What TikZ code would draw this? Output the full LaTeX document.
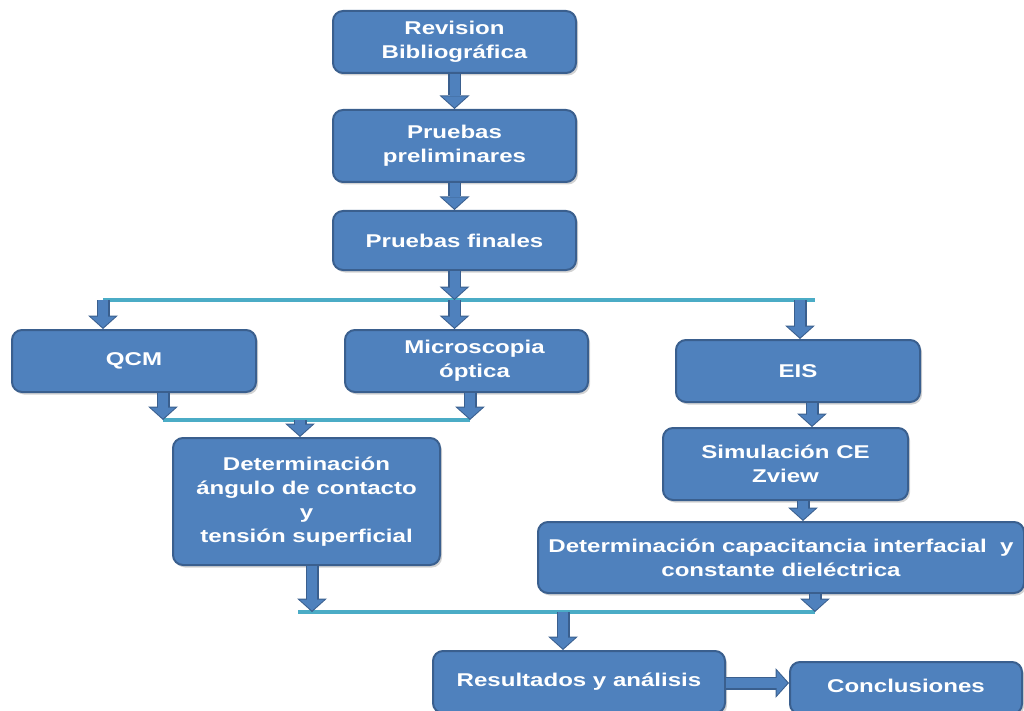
\documentclass[tikz,border=0pt]{standalone}
\usepackage{fontspec}
\setmainfont{Liberation Sans}[FakeStretch=1.3]
\usetikzlibrary{arrows.meta,shadows,calc}
\definecolor{boxblue}{HTML}{4F81BD}
\definecolor{boxedge}{HTML}{3A5F8E}
\definecolor{busc}{HTML}{4BACC6}
\definecolor{busshade}{HTML}{93AAB8}
\begin{document}
\begin{tikzpicture}[x=1pt,y=-1pt,
  box/.style={draw=boxedge, line width=2pt, fill=boxblue, rounded corners=10pt,
    text=white, font=\fontsize{18.5}{24}\selectfont\bfseries, align=center, inner sep=0pt,
    drop shadow={shadow xshift=2pt, shadow yshift=-2.5pt, opacity=0.35}},
  barrow/.style={line width=10pt, draw=boxblue,
    -{Triangle[width=25pt,length=11pt,line width=0pt]}, shorten >=1.5pt,
    preaction={draw=boxedge, line width=13pt, -{Triangle[width=30pt,length=13.5pt,line width=0pt]}, shorten >=0pt}},
  busline/.style={line width=4.5pt, draw=busc, line cap=butt},
  busshadow/.style={line width=3pt, draw=busshade, yshift=-2.5pt}
]
\useasboundingbox (0,0) rectangle (1024,711);

% boxes
\node[box, minimum width=243pt, minimum height=62pt] (rev) at (454.5,42) {Revision\\Bibliográfica};
\node[box, minimum width=243pt, minimum height=72pt] (pre) at (454.5,146) {Pruebas\\preliminares};
\node[box, minimum width=243pt, minimum height=59pt] (fin) at (454.5,240.5) {Pruebas finales};
\node[box, minimum width=244pt, minimum height=62pt] (qcm) at (134,361) {QCM};
\node[box, minimum width=243pt, minimum height=62pt] (mic) at (466.5,361) {\hspace*{16pt}Microscopia\\\hspace*{16pt}óptica};
\node[box, minimum width=244pt, minimum height=62pt] (eis) at (798,371) {EIS};
\node[box, minimum width=267pt, minimum height=127pt] (det) at (306.5,501.5) {Determinación\\ángulo de contacto\\y\\tensión superficial};
\node[box, minimum width=245pt, minimum height=72pt] (sim) at (785.5,464) {Simulación CE\\Zview};
\node[box, minimum width=486pt, minimum height=71pt] (cap) at (781,557.5) {Determinación capacitancia interfacial~ y\\constante dieléctrica};
\node[box, minimum width=292pt, minimum height=62pt] (res) at (579,682) {\raisebox{1pt}{Resultados y análisis}};
\node[box, minimum width=232pt, minimum height=52pt] (con) at (906,688) {\raisebox{5pt}{Conclusiones}};

% bus coordinates
\coordinate (b1L) at (103,300);
\coordinate (b1R) at (815,300);
\coordinate (e1) at (800,300);
\coordinate (b2L) at (163,420);
\coordinate (b2R) at (470,420);
\coordinate (d1) at (300,420);
\coordinate (b3L) at (298,612);
\coordinate (b3R) at (815,612);
\coordinate (d2) at (312,612);
\coordinate (r1) at (563,612);
\coordinate (xa) at (812,0);
\coordinate (xb) at (803,0);
\coordinate (ry) at (0,683);

% bus lines
\draw[busshadow] (b1L) -- (b1R);
\draw[busline] (b1L) -- (b1R);
\draw[busshadow] (b2L) -- (b2R);
\draw[busline] (b2L) -- (b2R);
\draw[busshadow] (b3L) -- (b3R);
\draw[busline] (b3L) -- (b3R);

% arrows
\draw[barrow] (rev.south) -- (pre.north);
\draw[barrow] (pre.south) -- (fin.north);
\draw[barrow] (fin.south) -- (fin.south |- b1L);
\draw[barrow] (b1L) -- (b1L |- qcm.north);
\draw[barrow] (fin.south |- b1L) -- (fin.south |- mic.north);
\draw[barrow] (e1) -- (e1 |- eis.north);
\draw[barrow] (qcm.south -| b2L) -- (b2L);
\draw[barrow] (mic.south -| b2R) -- (b2R);
\draw[barrow] (d1) -- (d1 |- det.north);
\draw[barrow] (det.south -| d2) -- (d2);
\draw[barrow] (eis.south -| xa) -- (sim.north -| xa);
\draw[barrow] (sim.south -| xb) -- (cap.north -| xb);
\draw[barrow] (cap.south -| b3R) -- (b3R);
\draw[barrow] (r1) -- (r1 |- res.north);
\draw[barrow] (res.east |- ry) -- (con.west |- ry);
\end{tikzpicture}
\end{document}
